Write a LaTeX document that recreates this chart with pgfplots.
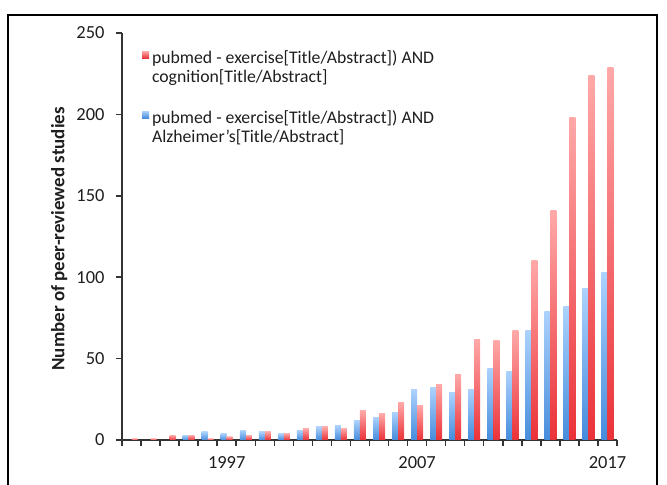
\documentclass[border=0pt]{standalone}
\usepackage{fontspec}
\setmainfont{Carlito}
\usepackage{pgfplots}
\pgfplotsset{compat=1.18}
\definecolor{redtop}{RGB}{255,168,168}
\definecolor{redbot}{RGB}{234,50,56}
\definecolor{bluetop}{RGB}{172,210,253}
\definecolor{bluebot}{RGB}{70,140,220}
\definecolor{txt}{RGB}{30,30,30}
\pgfplotsset{
  bb/.style={ybar, bar width=6bp, bar shift=-3bp, draw=none, top color=bluetop, bottom color=bluebot, forget plot},
  rb/.style={ybar, bar width=6bp, bar shift=3bp, draw=none, top color=redtop, bottom color=redbot, forget plot},
}
\begin{document}
\begin{tikzpicture}[x=1bp,y=1bp]
\useasboundingbox (0,0) rectangle (667,485);
\draw[line width=2bp] (8,-5) -- (8,470) -- (657,470) -- (657,-5);
\begin{axis}[
  at={(122bp,45bp)}, anchor=south west,
  scale only axis, width=495bp, height=407bp,
  ymin=0, ymax=250, xmin=1991.5, xmax=2017.5,
  axis lines*=left,
  axis line style={line width=1.5bp, black!80},
  tick align=outside,
  major tick length=6bp,
  tick style={line width=1.5bp, black!80},
  xtick={1991.5,1992.5,...,2017.6},
  xticklabels={},
  extra x ticks={1997,2007,2017},
  extra x tick labels={1997,2007,2017},
  extra x tick style={major tick length=0pt},
  ytick={0,50,...,250},
  /pgf/number format/assume math mode=true,
  /pgf/number format/1000 sep={},
  ticklabel style={font=\fontsize{18.5}{20}\selectfont, text=txt},
  yticklabel style={xshift=-8bp},
  xticklabel style={yshift=-13bp},
  ylabel={\bfseries Number of peer-reviewed studies},
  ylabel style={font=\fontsize{19}{21}\selectfont, text=txt,
    at={(axis description cs:-0.127,0.494)}, anchor=center},
  legend image code/.code={\fill[#1] (0bp,9bp) rectangle (7bp,16bp);},
  legend style={draw=none, fill=none, at={(0.034,0.968)}, anchor=north west,
    font=\fontsize{17.8}{19.5}\selectfont, text=txt, row sep=22bp,
    nodes={inner xsep=3bp},
    cells={anchor=west, align=left}},
]
% legend-only entries (no data)
\addlegendimage{draw=none, top color=redtop, bottom color=redbot}
\addlegendentry{pubmed - exercise[Title/Abstract]) AND\\cognition[Title/Abstract]}
\addlegendimage{draw=none, top color=bluetop, bottom color=bluebot}
\addlegendentry{pubmed - exercise[Title/Abstract]) AND\\Alzheimer's[Title/Abstract]}
% blue series (exercise AND Alzheimer's)
\addplot[bb] coordinates {(1995,3)};
\addplot[bb] coordinates {(1996,5)};
\addplot[bb] coordinates {(1997,4)};
\addplot[bb] coordinates {(1998,6)};
\addplot[bb] coordinates {(1999,5)};
\addplot[bb] coordinates {(2000,4)};
\addplot[bb] coordinates {(2001,6)};
\addplot[bb] coordinates {(2002,8)};
\addplot[bb] coordinates {(2003,9)};
\addplot[bb] coordinates {(2004,12)};
\addplot[bb] coordinates {(2005,14)};
\addplot[bb] coordinates {(2006,17)};
\addplot[bb] coordinates {(2007,31)};
\addplot[bb] coordinates {(2008,32)};
\addplot[bb] coordinates {(2009,29)};
\addplot[bb] coordinates {(2010,31)};
\addplot[bb] coordinates {(2011,44)};
\addplot[bb] coordinates {(2012,42)};
\addplot[bb] coordinates {(2013,67)};
\addplot[bb] coordinates {(2014,79)};
\addplot[bb] coordinates {(2015,82)};
\addplot[bb] coordinates {(2016,93)};
\addplot[bb] coordinates {(2017,103)};
% red series (exercise AND cognition)
\addplot[rb] coordinates {(1992,1)};
\addplot[rb] coordinates {(1993,1)};
\addplot[rb] coordinates {(1994,3)};
\addplot[rb] coordinates {(1995,3)};
\addplot[rb] coordinates {(1996,1)};
\addplot[rb] coordinates {(1997,2)};
\addplot[rb] coordinates {(1998,3)};
\addplot[rb] coordinates {(1999,5)};
\addplot[rb] coordinates {(2000,4)};
\addplot[rb] coordinates {(2001,7)};
\addplot[rb] coordinates {(2002,8)};
\addplot[rb] coordinates {(2003,7)};
\addplot[rb] coordinates {(2004,18)};
\addplot[rb] coordinates {(2005,16)};
\addplot[rb] coordinates {(2006,23)};
\addplot[rb] coordinates {(2007,21)};
\addplot[rb] coordinates {(2008,34)};
\addplot[rb] coordinates {(2009,40)};
\addplot[rb] coordinates {(2010,62)};
\addplot[rb] coordinates {(2011,61)};
\addplot[rb] coordinates {(2012,67)};
\addplot[rb] coordinates {(2013,110)};
\addplot[rb] coordinates {(2014,141)};
\addplot[rb] coordinates {(2015,198)};
\addplot[rb] coordinates {(2016,224)};
\addplot[rb] coordinates {(2017,229)};
\end{axis}
\end{tikzpicture}
\end{document}
